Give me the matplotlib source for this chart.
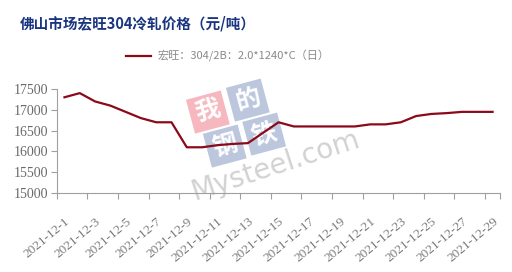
import matplotlib
matplotlib.use('Agg')
import matplotlib.pyplot as plt

plt.rcParams['font.family'] = ['Noto Sans CJK SC', 'DejaVu Sans']

# 日期（每天一个点）和价格
fechas = ['2021-12-%d' % d for d in range(1, 30)]
precios = [17300, 17400, 17200, 17100, 16950, 16800, 16700, 16700, 16100, 16100,
           16150, 16180, 16200, 16450, 16700, 16600, 16600, 16600, 16600, 16600,
           16650, 16650, 16700, 16850, 16900, 16920, 16950, 16950, 16950]
etiquetas = fechas[::2]
titulo = '佛山市场宏旺304冷轧价格（元/吨）'
serie = '宏旺：304/2B：2.0*1240*C（日）'

fig = plt.figure(figsize=(5.12, 2.72), dpi=100)
ax = fig.add_axes([0.111, 0.290, 0.866, 0.383])
ax.set_zorder(1)

x = list(range(len(fechas)))

# marca de agua aproximada (我的钢铁 / Mysteel.com)
wm_chars = '我的钢铁'
wm_pos = [(0.406, 0.588), (0.484, 0.632), (0.439, 0.463), (0.516, 0.507)]
wm_cols = ['#f6b8be', '#bcc7de', '#bcc7de', '#bcc7de']
for ch, (px, py), c in zip(wm_chars, wm_pos, wm_cols):
    fig.text(px, py, ch, fontsize=18, color='white', fontweight='bold', rotation=15,
             ha='center', va='center', zorder=0,
             bbox=dict(boxstyle='square,pad=0.22', fc=c, ec='none'))
fig.text(0.537, 0.39, 'Mysteel.com', fontsize=20, color='#d2d2d2', rotation=18,
         ha='center', va='center', family='DejaVu Sans', zorder=0)

ax.patch.set_alpha(0)
ax.plot(x, precios, color='#8b0a1a', linewidth=1.6, label=serie, zorder=3)

ax.set_xlim(-0.5, len(fechas) - 0.5)
ax.set_ylim(15000, 17500)
ax.set_yticks(range(15000, 17501, 500))

ax.set_xticks(x[::2])
ax.set_xticklabels(etiquetas, rotation=40, ha='right', rotation_mode='anchor',
                   family='Liberation Serif', fontsize=9.5, color='#7a7a7a')
ax.set_xticks([i - 0.5 for i in range(0, len(fechas), 2)] + [len(fechas) - 0.5], minor=True)
ax.tick_params(axis='x', which='major', length=0, pad=16)
ax.tick_params(axis='x', which='minor', length=4, color='#a0a0a0', width=0.8)

for lbl in ax.get_yticklabels():
    lbl.set_family('Liberation Serif')
ax.tick_params(axis='y', labelsize=10, labelcolor='#6a6a6a', length=4, color='#a0a0a0', width=0.8, pad=2)

for lado in ['top', 'right']:
    ax.spines[lado].set_visible(False)
for lado in ['left', 'bottom']:
    ax.spines[lado].set_color('#a0a0a0')
    ax.spines[lado].set_linewidth(0.8)

fig.text(0.038, 0.915, titulo, fontsize=10.5, fontweight='bold', color='#1a3580',
         ha='left', va='center')

leg = ax.legend(loc='lower left', bbox_to_anchor=(0.145, 1.215), frameon=False,
                handlelength=2.3, handletextpad=0.6, borderaxespad=0,
                prop={'size': 8})
for t in leg.get_texts():
    t.set_color('#8a8a8a')

fig.savefig('out.png', dpi=100)
